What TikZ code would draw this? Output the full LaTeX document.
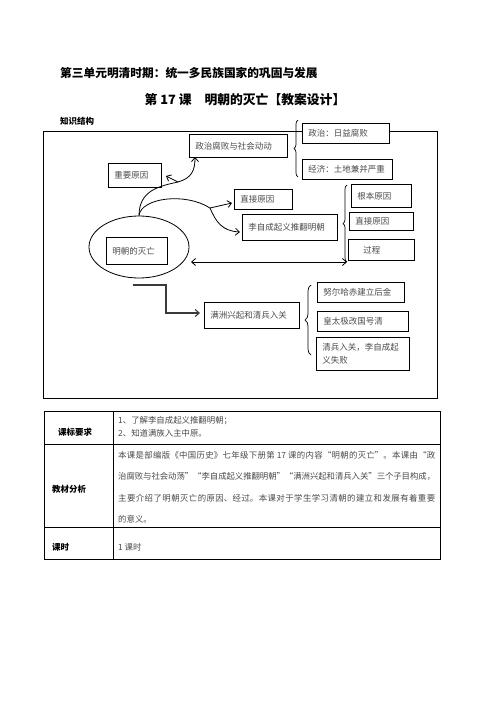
\documentclass[tikz,border=0pt]{standalone}
\usepackage{fontspec}
\setmainfont{Noto Sans CJK SC}
\usetikzlibrary{arrows.meta,shapes.geometric,decorations.pathreplacing}
\definecolor{txt}{HTML}{4A4A4A}
\definecolor{ln}{HTML}{3A3A3A}
\begin{document}
\begin{tikzpicture}[x=1pt,y=-1pt,
 box/.style={draw, fill=white, line width=0.9pt, inner xsep=6pt, inner ysep=0pt, anchor=north west, align=left, text=txt, font=\fontsize{8.5pt}{13pt}\selectfont},
 arr/.style={line width=0.8pt, -{Straight Barb[length=4pt,width=7pt]}},
 brc/.style={decorate, decoration={brace, amplitude=4pt}, line width=0.7pt},
 lbl/.style={font=\fontsize{8.5pt}{10pt}\selectfont\bfseries, inner sep=0pt},
 body/.style={font=\fontsize{8.4pt}{12pt}\selectfont, text=txt, inner sep=0pt, anchor=west}]
\useasboundingbox[fill=white] (0,0) rectangle (496,702);

% titles
\node[font=\fontsize{11.7pt}{14pt}\selectfont\bfseries, anchor=west, inner sep=0pt] (title1) at (60,73) {第三单元明清时期：统一多民族国家的巩固与发展};
\node[font=\fontsize{12.8pt}{15pt}\selectfont\bfseries, inner sep=0pt] (title2) at (245,100) {第 17 课　明朝的灭亡【教案设计】};
\node[lbl, anchor=west] (zsjg) at (60,121) {知识结构};

% frame
\draw[line width=0.9pt] (43,131) rectangle (437,398);

% boxes
\node[box, text width=75pt, minimum height=20pt] (b1) at (302,123) {政治：日益腐败};
\node[box, text width=86pt, minimum height=23pt] (b2) at (189,134) {政治腐败与社会动动};
\node[box, text width=78pt, minimum height=20pt] (b3) at (302,159) {经济：土地兼并严重};
\node[box, text width=41pt, minimum height=24pt] (b4) at (108,163) {重要原因};
\node[box, text width=46pt, minimum height=20pt] (b5) at (234,189) {直接原因};
\node[box, text width=83pt, minimum height=26pt] (b6) at (242,214) {李自成起义推翻明朝};
\node[box, text width=48pt, minimum height=23pt] (b7) at (351,184) {根本原因};
\node[box, text width=52pt, minimum height=18pt] (b8) at (349,212) {直接原因};
\node[box, text width=54pt, minimum height=21pt] (b9) at (348,239) {\hspace*{9pt}过程};

\node[ellipse, draw, line width=0.8pt, minimum width=100pt, minimum height=62pt, inner sep=0pt] (ell) at (139,247) {};
\node[box, text width=49pt, minimum height=27pt] (b10) at (106,237) {明朝的灭亡};

\node[box, text width=83pt, minimum height=26pt] (b11) at (204,302) {满洲兴起和清兵入关};
\node[box, text width=75pt, minimum height=20pt] (b12) at (317,282) {努尔哈赤建立后金};
\node[box, text width=79pt, minimum height=20pt] (b13) at (317,311) {皇太极改国号清};
\node[box, text width=81pt, minimum height=33pt] (b14) at (316,337) {清兵入关，李自成起\\义失败};

% braces
\draw[brc] (298,177) -- (298,120);
\draw[brc] (347,262) -- (347,185);
\draw[brc, decoration={brace, amplitude=6pt}] (311,355) -- (311,285);

% connectors
\coordinate (m1) at (178,182);
\coordinate (t2) at (195,157);
\coordinate (t4) at (166,176);
\coordinate (m2) at (210,208);
\coordinate (t5) at (232,203);
\coordinate (t6) at (240,232);
\coordinate (d1) at (191,262);
\coordinate (d2) at (347,262);
\coordinate (e1) at (133,285);
\coordinate (e2) at (200,313);

\draw[arr] (ell.north) .. controls (139,190) and (160,186) .. (m1) .. controls (192,178) and (195,170) .. (t2);
\draw[arr] (m1) -- (t4);
\draw[line width=0.8pt] (ell.north) .. controls (141,198) and (185,192) .. (m2);
\draw[arr] (m2) -- (t5);
\draw[arr] (m2) .. controls (216,222) and (222,231) .. (t6);
\draw[line width=0.8pt, {Straight Barb[length=4pt,width=7pt]}-{Straight Barb[length=4pt,width=7pt]}] (d1) -- (d2);
\draw[arr, draw=ln, line width=1.1pt] (e1) -- (166,285) -- (166,313) -- (e2);

% table
\draw[line width=0.9pt] (44,411) rectangle (440,559);
\draw[line width=0.9pt] (44,444) -- (440,444);
\draw[line width=0.9pt] (44,527) -- (440,527);
\draw[line width=0.9pt] (113,411) -- (113,559);

\node[lbl] (k1) at (75,432) {课标要求};
\node[lbl, anchor=west] (k2) at (52,489) {教材分析};
\node[lbl, anchor=west] (k3) at (52,547) {课时};

\node[body] (r1a) at (118,421) {1、了解李自成起义推翻明朝；};
\node[body] (r1b) at (118,433) {2、知道满族入主中原。};
\node[body, anchor=north west, text width=317pt, align=justify, font=\fontsize{8.4pt}{21.5pt}\selectfont] (r2) at (118,451) {\XeTeXlinebreaklocale "zh"\XeTeXlinebreakskip=0pt plus 2pt minus 0.3pt 本课是部编版《中国历史》七年级下册第 17 课的内容“明朝的灭亡”。本课由“政\linebreak 治腐败与社会动荡”“李自成起义推翻明朝”“满洲兴起和清兵入关”三个子目构成，\linebreak 主要介绍了明朝灭亡的原因、经过。本课对于学生学习清朝的建立和发展有着重要\linebreak 的意义。};
\node[body] (r3) at (118,547) {1 课时};
\end{tikzpicture}
\end{document}
